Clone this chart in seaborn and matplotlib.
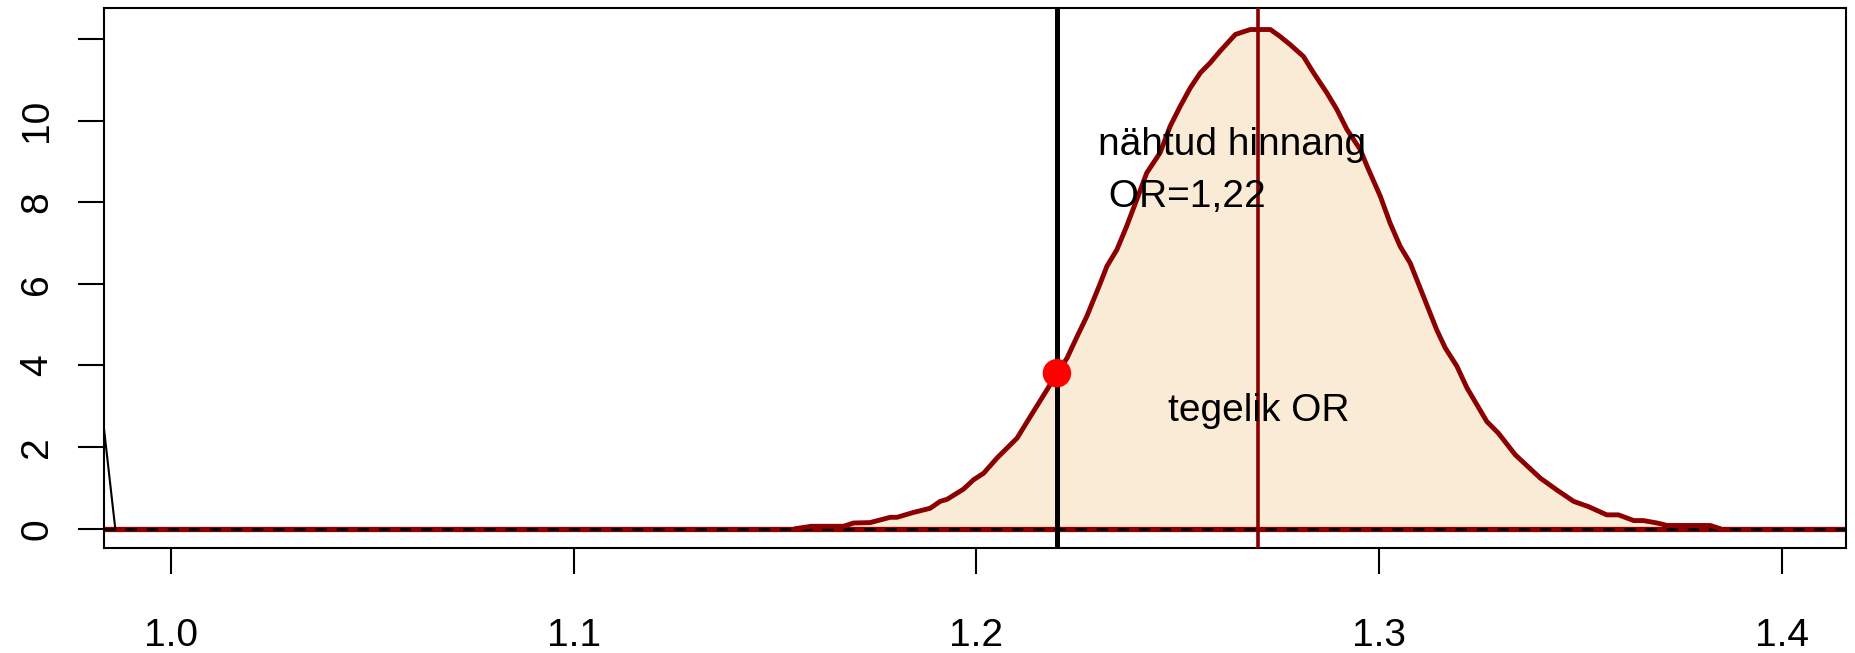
import numpy as np
import pandas as pd
import matplotlib
matplotlib.use("Agg")
import matplotlib.pyplot as plt
import seaborn as sns

# Density curve of the simulated OR (read off the reference)
or_x = [1.1550, 1.1590, 1.1670, 1.1695, 1.1736, 1.1786, 1.1803, 1.1844, 1.1885,
        1.1910, 1.1927, 1.1968, 1.1993, 1.2018, 1.2051, 1.2101, 1.2134, 1.2175,
        1.2200, 1.2225, 1.2250, 1.2274, 1.2307, 1.2324, 1.2349, 1.2373, 1.2398,
        1.2423, 1.2456, 1.2481, 1.2506, 1.2531, 1.2556, 1.2580, 1.2605, 1.2643,
        1.2680, 1.2730, 1.2754, 1.2779, 1.2812, 1.2837, 1.2870, 1.2895, 1.2920,
        1.2953, 1.2970, 1.3003, 1.3027, 1.3052, 1.3077, 1.3110, 1.3143, 1.3164,
        1.3193, 1.3218, 1.3267, 1.3296, 1.3338, 1.3400, 1.3441, 1.3483, 1.3520,
        1.3565, 1.3594, 1.3632, 1.3656, 1.3690, 1.3715, 1.3822, 1.3847]
density = [0.00, 0.06, 0.06, 0.14, 0.15, 0.28, 0.28, 0.40, 0.50,
           0.67, 0.72, 0.97, 1.20, 1.36, 1.73, 2.22, 2.75, 3.40,
           3.81, 4.18, 4.71, 5.20, 6.00, 6.43, 6.84, 7.41, 8.06,
           8.72, 9.21, 9.86, 10.35, 10.80, 11.17, 11.41, 11.70, 12.11,
           12.23, 12.23, 12.06, 11.86, 11.57, 11.17, 10.68, 10.27, 9.78,
           9.29, 8.88, 8.14, 7.49, 6.92, 6.51, 5.69, 4.87, 4.43,
           3.98, 3.45, 2.63, 2.34, 1.81, 1.24, 0.95, 0.67, 0.54,
           0.34, 0.34, 0.20, 0.20, 0.14, 0.08, 0.08, 0.00]

# thin black curve entering from the left edge
left_x = [0.9834, 0.9862]
left_y = [2.45, 0.0]

observed_or = 1.22
observed_dens = 3.81
true_or = 1.27

x_ticks = [1.0, 1.1, 1.2, 1.3, 1.4]
x_labels = ["1.0", "1.1", "1.2", "1.3", "1.4"]
y_ticks = [0, 2, 4, 6, 8, 10, 12]
y_labels = ["0", "2", "4", "6", "8", "10", ""]

label_obs = "nähtud hinnang\n OR=1,22"
label_true = "tegelik OR"

sns.set_theme(style="white")
plt.rcParams['font.family'] = ['Liberation Sans', 'DejaVu Sans']
plt.rcParams['text.color'] = 'black'

fig = plt.figure(figsize=(18.56, 6.53), dpi=100)
ax = fig.add_axes([0.05603, 0.16156, 0.93858, 0.82573])

df = pd.DataFrame({"x": or_x, "y": density})
ax.fill_between(df["x"], df["y"], 0, color="#FAEBD7", lw=0, zorder=1)
sns.lineplot(data=df, x="x", y="y", color="#8B0000", lw=3.5, ax=ax, zorder=4)

ax.plot(left_x, left_y, color="black", lw=1.5, zorder=3)

# zero line: thick dark red with black dashes on top
ax.axhline(0, color="#8B0000", lw=3.8, zorder=2)
ax.axhline(0, color="black", lw=2, ls=(0, (4, 3.6)), zorder=3)

ax.axvline(observed_or, color="black", lw=3.6, zorder=5)
ax.axvline(true_or, color="#8B0000", lw=2.6, zorder=5)

sns.scatterplot(x=[observed_or], y=[observed_dens], color="red", s=420,
                edgecolor="none", ax=ax, zorder=6)

ax.text(1.2302, 7.89, label_obs, ha="left", va="baseline", fontsize=28,
        linespacing=1.57, multialignment="left", color="black", zorder=7)
ax.text(true_or, 2.63, label_true, ha="center", va="baseline", fontsize=28,
        color="black", zorder=7)

ax.set_xlim(0.9834, 1.4159)
ax.set_ylim(-0.46, 12.75)
ax.set_xticks(x_ticks)
ax.set_xticklabels(x_labels)
ax.set_yticks(y_ticks)
ax.set_yticklabels(y_labels, rotation=90, va="center")
ax.set_xlabel("")
ax.set_ylabel("")

ax.tick_params(axis="both", direction="out", length=19, width=1.5,
               labelsize=28, color="black", labelcolor="black")
ax.tick_params(axis="x", pad=32)
ax.tick_params(axis="y", pad=16)
ax.tick_params(bottom=True, left=True)
for sp in ax.spines.values():
    sp.set_color("black")
    sp.set_linewidth(1.5)

fig.savefig("out.png", dpi=100)
